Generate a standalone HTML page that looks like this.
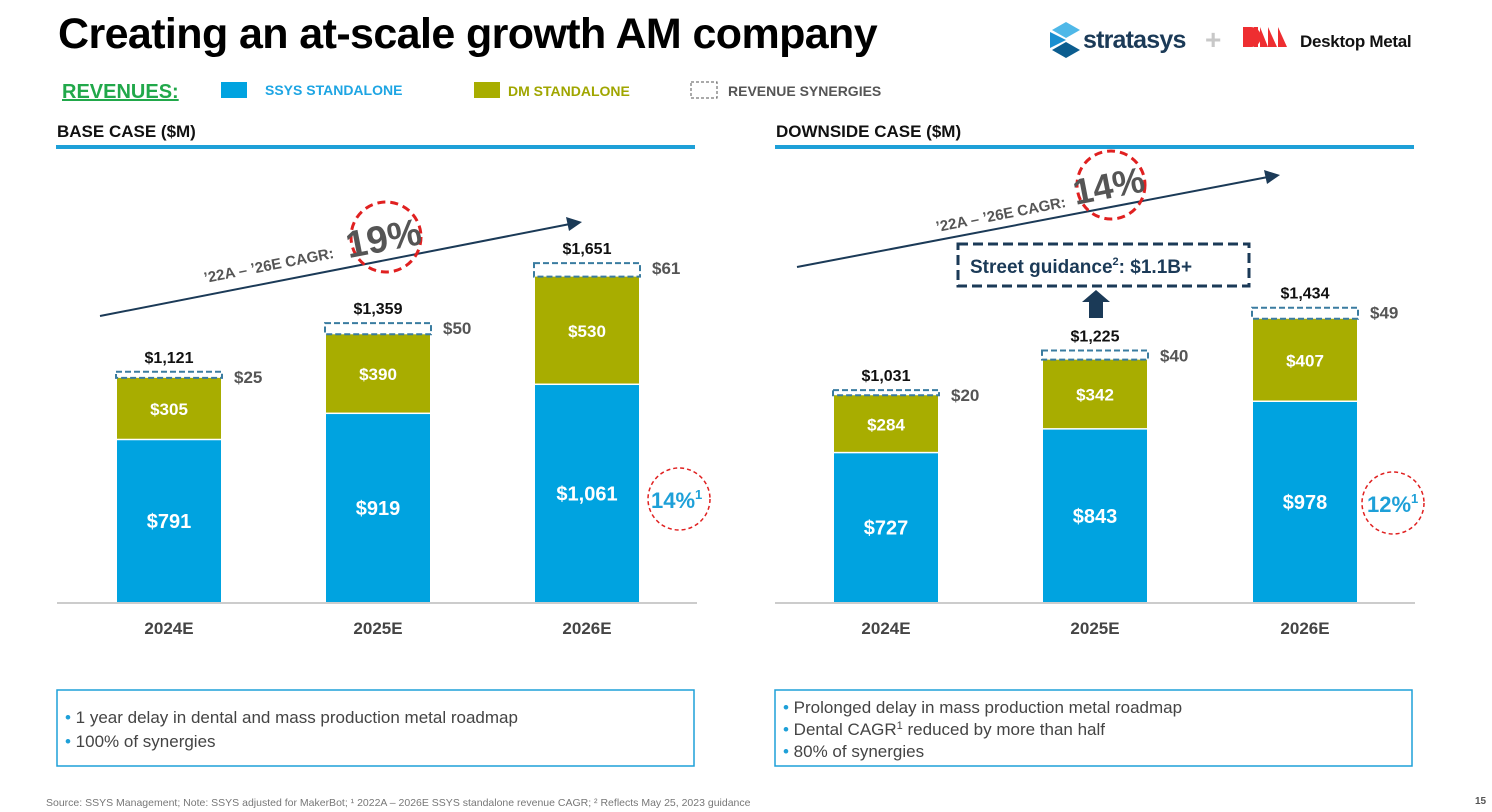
<!DOCTYPE html>
<html><head><meta charset="utf-8"><style>
body{margin:0;background:#fff;}
svg{display:block;font-family:"Liberation Sans",Arial,sans-serif;}
</style></head><body>
<svg id="s" width="1492" height="812" viewBox="0 0 1492 812" xmlns="http://www.w3.org/2000/svg">
<text x="58" y="48" font-size="43" font-weight="bold" fill="#000" letter-spacing="-0.6">Creating an at-scale growth AM company</text>
<g>
<polygon points="1066,22 1080,30 1066,38 1052,30" fill="#4fb8e8"/>
<polygon points="1050,32 1066,40 1050,48" fill="#1a8fd0"/>
<polygon points="1066,42 1080,50 1066,58 1052,50" fill="#0b5d8f"/>
<text x="1083" y="48" font-size="25" font-weight="bold" fill="#1b3a57" letter-spacing="-0.8">stratasys</text>
</g>
<text x="1205" y="49" font-size="28" font-weight="bold" fill="#c8c8c8">+</text>
<g>
<path d="M1243,27h8a10,10 0 0 1 0,20h-8z M1254,27h4v20h-4z M1260,27l8,20h-8z M1268,27l9,20h-9z M1278,27l9,20h-9z" fill="#ee2e31"/>
<text x="1300" y="47" font-size="17" font-weight="bold" fill="#111" letter-spacing="-0.3">Desktop Metal</text>
</g>
<text x="62" y="98" font-size="20" font-weight="bold" fill="#21a84a" text-decoration="underline">REVENUES:</text>
<rect x="221" y="82" width="26" height="16" fill="#00a3e0"/>
<text x="265" y="95" font-size="14" font-weight="bold" fill="#1ea5e3">SSYS STANDALONE</text>
<rect x="474" y="82" width="26" height="16" fill="#a8ad00"/>
<text x="508" y="96" font-size="14" font-weight="bold" fill="#a0a600">DM STANDALONE</text>
<rect x="691" y="82" width="26" height="16" fill="none" stroke="#555" stroke-dasharray="3,2"/>
<text x="728" y="96" font-size="14" font-weight="bold" fill="#555">REVENUE SYNERGIES</text>
<text x="57" y="137" font-size="17" font-weight="bold" fill="#111">BASE CASE ($M)</text>
<rect x="56" y="145" width="639" height="4" fill="#1ea0d8"/>
<text x="776" y="137" font-size="17" font-weight="bold" fill="#111">DOWNSIDE CASE ($M)</text>
<rect x="775" y="145" width="639" height="4" fill="#1ea0d8"/>
<g id="charts"></g>
<g>
<line x1="100" y1="316" x2="570" y2="224" stroke="#1b3a57" stroke-width="2"/>
<polygon points="582,222 566,217 569,231" fill="#1b3a57"/>
<text transform="translate(205,283) rotate(-11)" font-size="15" font-weight="bold" fill="#555">’22A – ’26E CAGR:</text>
<circle cx="386" cy="237" r="35" fill="none" stroke="#e02020" stroke-width="3" stroke-dasharray="8,5"/>
<text transform="translate(386,251) rotate(-11)" text-anchor="middle" font-size="38" font-weight="bold" fill="#555">19%</text>
</g>
<g>
<line x1="797" y1="267" x2="1268" y2="177" stroke="#1b3a57" stroke-width="2"/>
<polygon points="1280,175 1264,170 1267,184" fill="#1b3a57"/>
<text transform="translate(937,232) rotate(-11)" font-size="15" font-weight="bold" fill="#555">’22A – ’26E CAGR:</text>
<circle cx="1111" cy="185" r="34" fill="none" stroke="#e02020" stroke-width="3" stroke-dasharray="8,5"/>
<text transform="translate(1111,198) rotate(-11)" text-anchor="middle" font-size="36" font-weight="bold" fill="#555">14%</text>
</g>
<g>
<rect x="958" y="244" width="291" height="42" fill="none" stroke="#1b3a57" stroke-width="3" stroke-dasharray="10,5"/>
<text x="970" y="273" font-size="19" font-weight="bold" fill="#1b3a57">Street guidance<tspan font-size="11" dy="-8">2</tspan><tspan dy="8">: $1.1B+</tspan></text>
<polygon points="1096,290 1110,302 1103,302 1103,318 1089,318 1089,302 1082,302" fill="#1b3a57"/>
</g>
<g>
<circle cx="679" cy="499" r="31" fill="none" stroke="#e02020" stroke-width="1.5" stroke-dasharray="4,3"/>
<text x="651" y="508" font-size="22" font-weight="bold" fill="#1ea0d8">14%<tspan font-size="13" dy="-9">1</tspan></text>
</g>
<g>
<circle cx="1393" cy="503" r="31" fill="none" stroke="#e02020" stroke-width="1.5" stroke-dasharray="4,3"/>
<text x="1367" y="512" font-size="22" font-weight="bold" fill="#1ea0d8">12%<tspan font-size="13" dy="-9">1</tspan></text>
</g>
<g>
<rect x="57" y="690" width="637" height="76" fill="none" stroke="#1ea0d8" stroke-width="1.5"/>
<text x="65" y="723" font-size="17" fill="#444"><tspan fill="#1ea0d8">•</tspan>  1 year delay in dental and mass production metal roadmap</text>
<text x="65" y="747" font-size="17" fill="#444"><tspan fill="#1ea0d8">•</tspan>  100% of synergies</text>
</g>
<g>
<rect x="775" y="690" width="637" height="76" fill="none" stroke="#1ea0d8" stroke-width="1.5"/>
<text x="783" y="713" font-size="17" fill="#444"><tspan fill="#1ea0d8">•</tspan>  Prolonged delay in mass production metal roadmap</text>
<text x="783" y="735" font-size="17" fill="#444"><tspan fill="#1ea0d8">•</tspan>  Dental CAGR<tspan font-size="11" dy="-6">1</tspan><tspan dy="6"> reduced by more than half</tspan></text>
<text x="783" y="757" font-size="17" fill="#444"><tspan fill="#1ea0d8">•</tspan>  80% of synergies</text>
</g>
<text x="46" y="806" font-size="10.5" fill="#777">Source: SSYS Management; Note: SSYS adjusted for MakerBot; ¹ 2022A – 2026E SSYS standalone revenue CAGR; ² Reflects May 25, 2023 guidance</text>
<text x="1475" y="804" font-size="10" font-weight="bold" fill="#555">15</text>
</svg>
<script>
const categories = ["2024E","2025E","2026E"];
const baseSsys = [791,919,1061];
const baseDm = [305,390,530];
const baseSyn = [25,50,61];
const baseTotal = ["$1,121","$1,359","$1,651"];
const downSsys = [727,843,978];
const downDm = [284,342,407];
const downSyn = [20,40,49];
const downTotal = ["$1,031","$1,225","$1,434"];

const NS = "http://www.w3.org/2000/svg";
const g = document.getElementById("charts");
const baseY = 602, scale = 0.2045;
function y(v){ return baseY - v*scale; }
function fmt(v){ return "$" + v.toLocaleString("en-US"); }
function mk(tag, attrs, parent){ const e=document.createElementNS(NS,tag); for(const k in attrs) e.setAttribute(k,attrs[k]); (parent||g).appendChild(e); return e; }
function txt(x,yy,s,size,fill,anchor){ const t=mk("text",{x:x,y:yy,"font-size":size,"font-weight":"bold",fill:fill,"text-anchor":anchor||"middle"}); t.textContent=s; return t; }

function drawChart(prefix, x0, xs, ssys, dm, syn, totals){
  const ax = mk("line",{x1:x0,y1:baseY+1,x2:x0+640,y2:baseY+1,stroke:"#ccc","stroke-width":2});
  
  
  const w = 104;
  categories.forEach((c,i)=>{
    const x = xs[i];
    const y1 = y(ssys[i]), y2 = y(ssys[i]+dm[i]), y3 = y(ssys[i]+dm[i]+syn[i]);
    const b1 = mk("rect",{x:x,y:y1,width:w,height:baseY-y1,fill:"#00a3e0"});
    
    
    const b2 = mk("rect",{x:x,y:y2,width:w,height:y1-y2-1.5,fill:"#a8ad00"});
    
    
    const b3 = mk("rect",{x:x-1,y:y3-1,width:w+2,height:y2-y3+1,fill:"none",stroke:"#3a7ca0","stroke-width":2,"stroke-dasharray":"6,3"});
    
    
    const l1 = txt(x+w/2,(y1+baseY)/2+7,fmt(ssys[i]),20,"#fff");
    
    
    const l2 = txt(x+w/2,(y1+y2)/2+6,fmt(dm[i]),17,"#fff");
    
    
    const l3 = txt(x+w+13,y3+10,"$"+syn[i],17,"#555","start");
    
    
    const l4 = txt(x+w/2,y3-10,totals[i],16,"#111");
    
    
    const l5 = txt(x+w/2,634,c,17,"#444");
    
    
  });
}
drawChart("base",57,[117,326,535],baseSsys,baseDm,baseSyn,baseTotal);
drawChart("downside",775,[834,1043,1253],downSsys,downDm,downSyn,downTotal);
</script>
</body></html>
